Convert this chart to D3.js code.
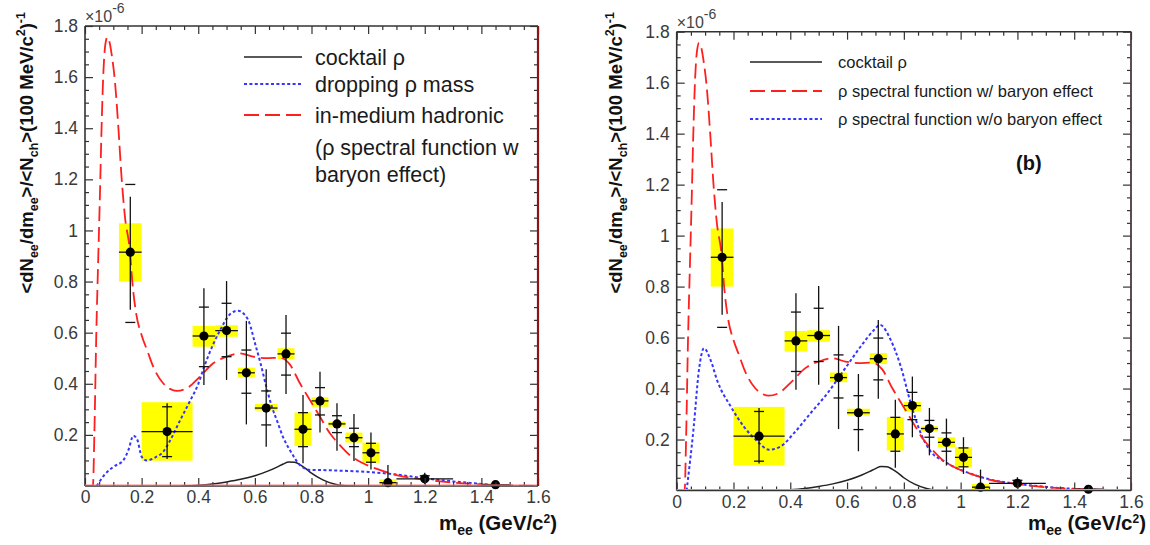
<!DOCTYPE html>
<html><head><meta charset="utf-8">
<script src="https://cdn.jsdelivr.net/npm/d3@7"></script>
<style>
body{margin:0;background:#fff}
svg{display:block}
text{font-family:"Liberation Sans",Arial,Helvetica,sans-serif}
</style>
</head><body>
<svg id="chart" width="1150" height="545"></svg>
<script>
// ---------- data (units of 1e-6) ----------
const massCenter = [0.16, 0.29, 0.42, 0.50, 0.57, 0.64, 0.71, 0.77, 0.83, 0.89, 0.95, 1.01, 1.07, 1.20, 1.45];
const yieldValue = [0.915, 0.213, 0.587, 0.608, 0.443, 0.305, 0.517, 0.222, 0.333, 0.243, 0.189, 0.130, 0.013, 0.028, 0.005];
const binLow     = [0.12, 0.20, 0.38, 0.46, 0.54, 0.60, 0.68, 0.74, 0.80, 0.86, 0.92, 0.98, 1.04, 1.10, 1.40];
const binHigh    = [0.20, 0.38, 0.46, 0.54, 0.60, 0.68, 0.74, 0.80, 0.86, 0.92, 0.98, 1.04, 1.10, 1.30, 1.50];
const statLow    = [0.69, 0.106, 0.395, 0.415, 0.241, 0.154, 0.36, 0.089, 0.209, 0.138, 0.098, 0.065, 0.0, 0.008, 0.0];
const statHigh   = [1.132, 0.324, 0.774, 0.802, 0.646, 0.457, 0.669, 0.356, 0.447, 0.324, 0.282, 0.209, 0.082, 0.052, 0.005];
const capLow     = [0.64, 0.115, 0.467, 0.506, 0.363, 0.239, 0.434, 0.154, 0.278, 0.209, 0.154, 0.093, null, null, null];
const capHigh    = [1.18, 0.31, 0.70, 0.715, 0.532, 0.372, 0.598, 0.287, 0.385, 0.275, 0.226, 0.167, null, 0.040, null];
const boxLow     = [0.80, 0.099, 0.545, 0.584, 0.425, 0.295, 0.496, 0.157, 0.31, 0.232, 0.17, 0.091, 0.004, 0.028, 0.005];
const boxHigh    = [1.028, 0.328, 0.626, 0.629, 0.463, 0.321, 0.539, 0.288, 0.347, 0.252, 0.209, 0.17, 0.026, 0.028, 0.005];

const cocktailMass  = [0.34, 0.40, 0.45, 0.50, 0.55, 0.60, 0.65, 0.68, 0.70, 0.72, 0.74, 0.76, 0.78, 0.80, 0.84, 0.88, 0.92, 0.95];
const cocktailYield = [0.0, 0.003, 0.008, 0.016, 0.026, 0.040, 0.060, 0.075, 0.086, 0.094, 0.093, 0.083, 0.068, 0.050, 0.024, 0.008, 0.001, 0.0];

const inMediumMass  = [0.0, 0.028, 0.033, 0.040, 0.047, 0.053, 0.058, 0.065, 0.071, 0.079, 0.087, 0.094, 0.106, 0.118, 0.129, 0.141, 0.159, 0.167, 0.18, 0.20, 0.22, 0.241, 0.276, 0.30, 0.324, 0.359, 0.406, 0.453, 0.50, 0.547, 0.594, 0.641, 0.688, 0.724, 0.759, 0.794, 0.83, 0.865, 0.90, 0.935, 0.982, 1.041, 1.10, 1.194, 1.335, 1.488, 1.6];
const inMediumYield = [0.0, 0.0, 0.20, 0.60, 0.90, 1.15, 1.38, 1.62, 1.72, 1.756, 1.735, 1.69, 1.58, 1.40, 1.21, 1.054, 0.915, 0.80, 0.68, 0.59, 0.53, 0.467, 0.402, 0.38, 0.372, 0.382, 0.428, 0.48, 0.506, 0.519, 0.506, 0.50, 0.502, 0.475, 0.402, 0.337, 0.271, 0.206, 0.16, 0.121, 0.089, 0.063, 0.043, 0.026, 0.010, 0.003, 0.0];

const droppingMass  = [0.041, 0.07, 0.10, 0.135, 0.153, 0.171, 0.185, 0.20, 0.218, 0.245, 0.279, 0.30, 0.335, 0.371, 0.40, 0.42, 0.453, 0.476, 0.512, 0.541, 0.56, 0.58, 0.60, 0.62, 0.64, 0.66, 0.68, 0.70, 0.724, 0.759, 0.794, 0.85, 0.90, 1.0, 1.1, 1.2, 1.3, 1.4, 1.48];
const droppingYield = [0.0, 0.045, 0.075, 0.10, 0.14, 0.197, 0.18, 0.115, 0.10, 0.11, 0.138, 0.177, 0.255, 0.333, 0.399, 0.464, 0.555, 0.607, 0.672, 0.686, 0.675, 0.64, 0.56, 0.48, 0.39, 0.31, 0.25, 0.19, 0.14, 0.082, 0.063, 0.062, 0.06, 0.055, 0.045, 0.03, 0.018, 0.008, 0.0];

const noBaryonMass  = [0.035, 0.06, 0.078, 0.096, 0.12, 0.143, 0.19, 0.237, 0.284, 0.325, 0.366, 0.413, 0.472, 0.531, 0.59, 0.648, 0.695, 0.716, 0.754, 0.789, 0.824, 0.859, 0.894, 0.941, 0.982, 1.041, 1.10, 1.194, 1.335, 1.488];
const noBaryonYield = [0.0, 0.25, 0.47, 0.558, 0.51, 0.43, 0.33, 0.25, 0.193, 0.16, 0.173, 0.225, 0.304, 0.382, 0.474, 0.565, 0.63, 0.65, 0.59, 0.487, 0.343, 0.226, 0.154, 0.115, 0.09, 0.064, 0.044, 0.027, 0.011, 0.003];

const yTickValues = [0.2, 0.4, 0.6, 0.8, 1.0, 1.2, 1.4, 1.6, 1.8];
const yTickLabels = ["0.2", "0.4", "0.6", "0.8", "1", "1.2", "1.4", "1.6", "1.8"];
const xTickValues = [0, 0.2, 0.4, 0.6, 0.8, 1.0, 1.2, 1.4, 1.6];
const xTickLabels = ["0", "0.2", "0.4", "0.6", "0.8", "1", "1.2", "1.4", "1.6"];

const legendLeft  = ["cocktail ρ", "dropping ρ mass", "in-medium hadronic"];
const legendLeftNote = ["(ρ spectral function w", "baryon effect)"];
const legendRight = ["cocktail ρ", "ρ spectral function w/ baryon effect", "ρ spectral function w/o baryon effect"];

// ---------- styles ----------
const RED = "#ff1f1f", BLUE = "#3535ff", BLACK = "#222";
const styles = {
  cocktail: {stroke: BLACK, width: 1.5, dash: null},
  red: {stroke: RED, width: 1.8, dash: "15,6"},
  blue: {stroke: BLUE, width: 2, dash: "3,2.4"}
};

const svg = d3.select("#chart");

function drawPanel(o) {
  const g = svg.append("g");
  const x = d3.scaleLinear().domain([0, 1.6]).range([o.L, o.R]);
  const y = d3.scaleLinear().domain([0, 1.8]).range([o.B, o.T]);
  const clipId = "clip" + o.id;
  svg.append("clipPath").attr("id", clipId).append("rect")
    .attr("x", o.L).attr("y", o.T).attr("width", o.R - o.L).attr("height", o.B - o.T);

  const idx = d3.range(massCenter.length);
  g.append("g").selectAll("rect").data(idx.filter(i => boxHigh[i] > boxLow[i])).join("rect")
    .attr("x", i => x(binLow[i])).attr("width", i => x(binHigh[i]) - x(binLow[i]))
    .attr("y", i => y(boxHigh[i])).attr("height", i => y(boxLow[i]) - y(boxHigh[i]))
    .attr("fill", "#ffff00");

  const cg = g.append("g").attr("clip-path", `url(#${clipId})`);
  o.curves.forEach(c => {
    const pts = c.xs.map((v, i) => [v, c.ys[i]]);
    const line = d3.line().x(d => x(d[0])).y(d => y(d[1])).curve(d3.curveMonotoneX);
    const st = styles[c.style];
    cg.append("path").attr("d", line(pts)).attr("fill", "none")
      .attr("stroke", st.stroke).attr("stroke-width", st.width)
      .attr("stroke-dasharray", st.dash);
  });

  const eg = g.append("g").attr("stroke", "#111").attr("stroke-width", 1.3);
  idx.forEach(i => {
    eg.append("line").attr("x1", x(binLow[i])).attr("x2", x(binHigh[i]))
      .attr("y1", y(yieldValue[i])).attr("y2", y(yieldValue[i]));
    eg.append("line").attr("x1", x(massCenter[i])).attr("x2", x(massCenter[i]))
      .attr("y1", y(statLow[i])).attr("y2", y(statHigh[i]));
    [capLow[i], capHigh[i]].forEach(cv => {
      if (cv === null) return;
      eg.append("line").attr("x1", x(massCenter[i]) - 5).attr("x2", x(massCenter[i]) + 5)
        .attr("y1", y(cv)).attr("y2", y(cv));
    });
  });
  g.append("g").selectAll("circle").data(idx).join("circle")
    .attr("cx", i => x(massCenter[i])).attr("cy", i => y(yieldValue[i]))
    .attr("r", 4.6).attr("fill", "#000");

  const minorX = d3.range(0.05, 1.6, 0.05).filter(v => Math.abs(v / 0.2 - Math.round(v / 0.2)) > 0.01);
  const minorY = d3.range(0.05, 1.8, 0.05).filter(v => Math.abs(v / 0.2 - Math.round(v / 0.2)) > 0.01);
  function ax(gen, tr) {
    const a = g.append("g").attr("transform", tr).call(gen);
    a.select(".domain").remove();
    a.selectAll("line").attr("stroke", "#333").attr("stroke-width", 1.2);
    a.selectAll("text").attr("fill", "#3a3a3a").attr("font-size", 17.5)
      .style("font-family", '"Liberation Sans", Arial, sans-serif');
    return a;
  }
  ax(d3.axisLeft(y).tickValues(yTickValues).tickSizeInner(-8).tickSizeOuter(0).tickPadding(7)
      .tickFormat((d, i) => yTickLabels[i]), `translate(${o.L},0)`);
  ax(d3.axisLeft(y).tickValues(minorY).tickSizeInner(-4).tickSizeOuter(0).tickFormat(""), `translate(${o.L},0)`);
  ax(d3.axisRight(y).tickValues(yTickValues).tickSizeInner(-8).tickSizeOuter(0).tickFormat(""), `translate(${o.R},0)`);
  ax(d3.axisRight(y).tickValues(minorY).tickSizeInner(-4).tickSizeOuter(0).tickFormat(""), `translate(${o.R},0)`);
  ax(d3.axisBottom(x).tickValues(xTickValues).tickSizeInner(-8).tickSizeOuter(0).tickPadding(5)
      .tickFormat((d, i) => xTickLabels[i]), `translate(0,${o.B})`);
  ax(d3.axisBottom(x).tickValues(minorX).tickSizeInner(-4).tickSizeOuter(0).tickFormat(""), `translate(0,${o.B})`);
  ax(d3.axisTop(x).tickValues(xTickValues).tickSizeInner(-8).tickSizeOuter(0).tickFormat(""), `translate(0,${o.T})`);
  ax(d3.axisTop(x).tickValues(minorX).tickSizeInner(-4).tickSizeOuter(0).tickFormat(""), `translate(0,${o.T})`);

  const fr = g.append("g").attr("stroke-width", 1.6).attr("fill", "none");
  fr.append("line").attr("x1", o.L).attr("x2", o.L).attr("y1", o.T).attr("y2", o.B).attr("stroke", "#333");
  fr.append("line").attr("x1", o.L).attr("x2", o.R).attr("y1", o.T).attr("y2", o.T).attr("stroke", "#333");
  fr.append("line").attr("x1", o.L).attr("x2", o.R).attr("y1", o.B).attr("y2", o.B).attr("stroke", "#333");
  fr.append("line").attr("x1", o.L).attr("x2", o.R).attr("y1", o.B - 1).attr("y2", o.B - 1).attr("stroke", "#ff8080").attr("stroke-width", 1);
  fr.append("line").attr("x1", o.R).attr("x2", o.R).attr("y1", o.T).attr("y2", o.B).attr("stroke", o.rightColor).attr("stroke-width", o.rightWidth);

  const ex = g.append("text").attr("x", o.L).attr("y", o.T - 4).attr("font-size", 16).attr("fill", "#444");
  ex.append("tspan").text("×10");
  ex.append("tspan").attr("dy", -9).attr("font-size", 14).text("-6");

  const yt = g.append("text").attr("transform", `translate(${o.yTitleX},12) rotate(-90)`)
    .attr("text-anchor", "end").attr("font-size", 18.5).attr("font-weight", "bold").attr("fill", "#111");
  const parts = [["<dN", 0], ["ee", 1], ["/dm", 0], ["ee", 1], [">/<N", 0], ["ch", 1], [">(100 MeV/c", 0], ["2", -1], [")", 0], ["-1", -1]];
  let level = 0;
  parts.forEach(([t, lv]) => {
    const shift = lv === 1 ? 5 : (lv === -1 ? -8 : 0);
    yt.append("tspan").attr("dy", shift - level).attr("font-size", lv === 0 ? 18.5 : 12.5).text(t);
    level = shift;
  });

  const xt = g.append("text").attr("x", o.xTitleX).attr("y", 530).attr("text-anchor", "end")
    .attr("font-size", 20.5).attr("font-weight", "bold").attr("fill", "#111");
  xt.append("tspan").text("m");
  xt.append("tspan").attr("dy", 5).attr("font-size", 14).text("ee");
  xt.append("tspan").attr("dy", -5).text(" (GeV/c");
  xt.append("tspan").attr("dy", -7).attr("font-size", 12).text("2");
  xt.append("tspan").attr("dy", 7).text(")");

  o.legend.forEach(e => {
    const st = styles[e.style];
    g.append("line").attr("x1", o.legX1).attr("x2", o.legX2).attr("y1", e.y).attr("y2", e.y)
      .attr("stroke", st.stroke).attr("stroke-width", st.width).attr("stroke-dasharray", st.dash);
    g.append("text").attr("x", o.legTextX).attr("y", e.y + o.legFont * 0.35)
      .attr("font-size", o.legFont).attr("fill", "#1a1a1a").text(e.label);
  });
  (o.notes || []).forEach(n => {
    g.append("text").attr("x", o.legTextX).attr("y", n.y + o.legFont * 0.35)
      .attr("font-size", o.legFont).attr("fill", "#1a1a1a").text(n.label);
  });
  if (o.tag) {
    g.append("text").attr("x", o.tag.x).attr("y", o.tag.y).attr("font-size", 20)
      .attr("font-weight", "bold").attr("fill", "#111").text(o.tag.label);
  }
}

drawPanel({
  id: "a", L: 85, R: 538, T: 26, B: 486, yTitleX: 33, xTitleX: 557,
  rightColor: "#8a1515", rightWidth: 2.2,
  curves: [
    {xs: cocktailMass, ys: cocktailYield, style: "cocktail"},
    {xs: droppingMass, ys: droppingYield, style: "blue"},
    {xs: inMediumMass, ys: inMediumYield, style: "red"}
  ],
  legX1: 244, legX2: 302, legTextX: 315, legFont: 21.5,
  legend: [
    {y: 57, style: "cocktail", label: legendLeft[0]},
    {y: 84, style: "blue", label: legendLeft[1]},
    {y: 115, style: "red", label: legendLeft[2]}
  ],
  notes: [{y: 147, label: legendLeftNote[0]}, {y: 174, label: legendLeftNote[1]}]
});

drawPanel({
  id: "b", L: 676.7, R: 1131, T: 31.7, B: 490.5, yTitleX: 622, xTitleX: 1146,
  rightColor: "#4a3a3a", rightWidth: 1.8,
  curves: [
    {xs: cocktailMass, ys: cocktailYield, style: "cocktail"},
    {xs: noBaryonMass, ys: noBaryonYield, style: "blue"},
    {xs: inMediumMass, ys: inMediumYield, style: "red"}
  ],
  legX1: 750, legX2: 822, legTextX: 838, legFont: 16.5,
  legend: [
    {y: 62, style: "cocktail", label: legendRight[0]},
    {y: 91, style: "red", label: legendRight[1]},
    {y: 119, style: "blue", label: legendRight[2]}
  ],
  tag: {x: 1016, y: 170, label: "(b)"}
});
</script>
</body></html>
